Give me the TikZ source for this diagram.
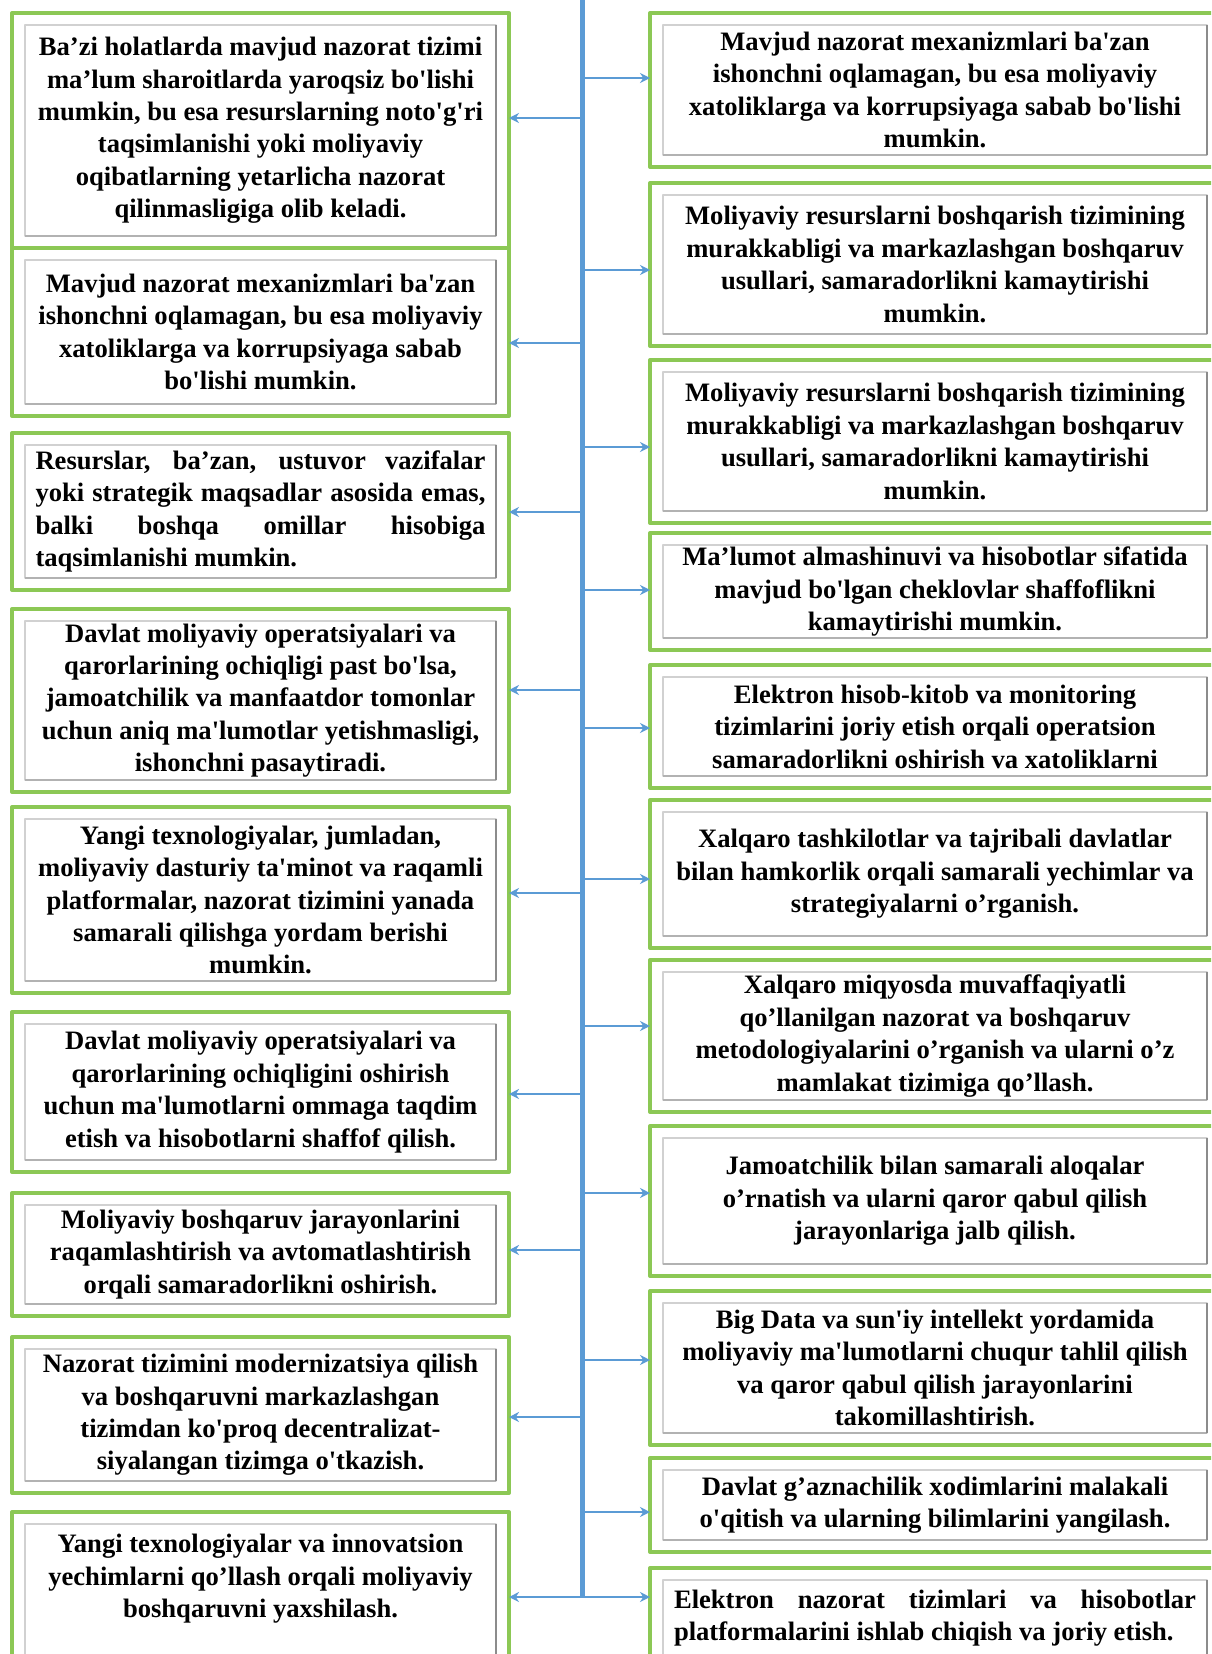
\documentclass[tikz,border=0pt]{standalone}
\usepackage{fontspec}
\usepackage{xcolor}
\usepackage{tikz}
\usetikzlibrary{arrows.meta,calc}

\newfontfamily\boxfam{Liberation Serif}
\definecolor{frgreen}{RGB}{140,200,85}
\definecolor{spineblue}{RGB}{91,155,213}
\newcommand{\boxfont}{\boxfam\fontsize{13.3pt}{16.2pt}\selectfont\bfseries}
\newcommand{\jline}[2]{\makebox[#1][s]{#2}}

\tikzset{
  framebox/.style={draw=frgreen, line width=2pt, anchor=north west, inner sep=0pt,
                   outer sep=0pt, align=center, font=\boxfont, text=black},
  lbox/.style={framebox, minimum width=248.5pt, minimum height=#1},
  rbox/.style={framebox, minimum width=285pt, minimum height=#1},
  innerline/.style={draw=black!18, line width=1pt},
  shadeline/.style={draw=black!45, line width=1.3pt},
  spine/.style={draw=spineblue, line width=2.5pt},
  feed/.style={draw=spineblue, line width=1.3pt, -{Stealth[length=5pt,width=5pt]}}
}

\begin{document}
\begin{tikzpicture}[x=0.5pt, y=-0.5pt, line join=round]

  \useasboundingbox (0,0) rectangle (1211,1654);
  \clip (0,0) rectangle (1211,1654);

  % left column
  \node[lbox=117.5pt] (L1) at (12,13) {Ba’zi holatlarda mavjud nazorat tizimi\\ ma’lum sharoitlarda yaroqsiz bo'lishi\\ mumkin, bu esa resurslarning noto'g'ri\\ taqsimlanishi yoki moliyaviy\\ oqibatlarning yetarlicha nazorat\\ qilinmasligiga olib keladi.};
  \node[lbox=84pt] (L2) at (12,248) {Mavjud nazorat mexanizmlari ba'zan\\ ishonchni oqlamagan, bu esa moliyaviy\\ xatoliklarga va korrupsiyaga sabab\\ bo'lishi mumkin.};
  \node[lbox=78.5pt, align=left] (L3) at (12,433) {\jline{225pt}{Resurslar, ba’zan, ustuvor vazifalar}\\ \jline{225pt}{yoki strategik maqsadlar asosida emas,}\\ \jline{225pt}{balki boshqa omillar hisobiga}\\ taqsimlanishi mumkin.};
  \node[lbox=91.5pt] (L4) at (12,609) {Davlat moliyaviy operatsiyalari va\\ qarorlarining ochiqligi past bo'lsa,\\ jamoatchilik va manfaatdor tomonlar\\ uchun aniq ma'lumotlar yetishmasligi,\\ ishonchni pasaytiradi.};
  \node[lbox=93pt] (L5) at (12,807) {Yangi texnologiyalar, jumladan,\\ moliyaviy dasturiy ta'minot va raqamli\\ platformalar, nazorat tizimini yanada\\ samarali qilishga yordam berishi\\ mumkin.};
  \node[lbox=80pt] (L6) at (12,1012) {Davlat moliyaviy operatsiyalari va\\ qarorlarining ochiqligini oshirish\\ uchun ma'lumotlarni ommaga taqdim\\ etish va hisobotlarni shaffof qilish.};
  \node[lbox=61.5pt] (L7) at (12,1193) {Moliyaviy boshqaruv jarayonlarini\\ raqamlashtirish va avtomatlashtirish\\ orqali samaradorlikni oshirish.};
  \node[lbox=78pt] (L8) at (12,1337) {Nazorat tizimini modernizatsiya qilish\\ va boshqaruvni markazlashgan\\ tizimdan ko'proq decentralizat-\\ siyalangan tizimga o'tkazish.};
  \node[lbox=80pt] (L9) at (12,1512) {Yangi texnologiyalar va innovatsion\\ yechimlarni qo’llash orqali moliyaviy\\ boshqaruvni yaxshilash.\\ ~};

  % right column
  \node[rbox=77pt] (R1) at (650,13) {Mavjud nazorat mexanizmlari ba'zan\\ ishonchni oqlamagan, bu esa moliyaviy\\ xatoliklarga va korrupsiyaga sabab bo'lishi\\ mumkin.};
  \node[rbox=81.5pt] (R2) at (650,183) {Moliyaviy resurslarni boshqarish tizimining\\ murakkabligi va markazlashgan boshqaruv\\ usullari, samaradorlikni kamaytirishi\\ mumkin.};
  \node[rbox=81.5pt] (R3) at (650,360) {Moliyaviy resurslarni boshqarish tizimining\\ murakkabligi va markazlashgan boshqaruv\\ usullari, samaradorlikni kamaytirishi\\ mumkin.};
  \node[rbox=58.5pt] (R4) at (650,533) {Ma’lumot almashinuvi va hisobotlar sifatida\\ mavjud bo'lgan cheklovlar shaffoflikni\\ kamaytirishi mumkin.};
  \node[rbox=61.5pt] (R5) at (650,665) {Elektron hisob-kitob va monitoring\\ tizimlarini joriy etish orqali operatsion\\ samaradorlikni oshirish va xatoliklarni};
  \node[rbox=74pt] (R6) at (650,800) {Xalqaro tashkilotlar va tajribali davlatlar\\ bilan hamkorlik orqali samarali yechimlar va\\ strategiyalarni o’rganish.};
  \node[rbox=76pt] (R7) at (650,960) {Xalqaro miqyosda muvaffaqiyatli\\ qo’llanilgan nazorat va boshqaruv\\ metodologiyalarini o’rganish va ularni o’z\\ mamlakat tizimiga qo’llash.};
  \node[rbox=75pt] (R8) at (650,1126) {Jamoatchilik bilan samarali aloqalar\\ o’rnatish va ularni qaror qabul qilish\\ jarayonlariga jalb qilish.};
  \node[rbox=77pt] (R9) at (650,1291) {Big Data va sun'iy intellekt yordamida\\ moliyaviy ma'lumotlarni chuqur tahlil qilish\\ va qaror qabul qilish jarayonlarini\\ takomillashtirish.};
  \node[rbox=47pt] (R10) at (650,1458) {Davlat g’aznachilik xodimlarini malakali\\ o'qitish va ularning bilimlarini yangilash.};
  \node[rbox=50pt, align=left] (R11) at (650,1568) {\jline{261pt}{Elektron nazorat tizimlari va hisobotlar}\\ platformalarini ishlab chiqish va joriy etish.};

  % inner frames, darker on the right and bottom
  \foreach \n in {L1,L2,L3,L4,L5,L6,L7,L8,L9,R1,R2,R3,R4,R5,R6,R7,R8,R9,R10,R11} {
    \draw[innerline] ([shift={(6.5pt,-6pt)}]\n.north west) rectangle ([shift={(-6.5pt,6pt)}]\n.south east);
    \draw[shadeline, draw=black!30] ([shift={(6.5pt,6pt)}]\n.south west) -- ([shift={(-6.5pt,6pt)}]\n.south east);
    \draw[shadeline] ([shift={(-6.5pt,-6pt)}]\n.north east) -- ([shift={(-6.5pt,6pt)}]\n.south east);
  }

  % feeds from the spine
  \foreach \n/\y in {L1/118,L2/343,L3/512,L4/690,L5/893,L6/1094,L7/1250,L8/1417,L9/1597} {
    \coordinate (s\n) at (582,\y);
    \draw[feed] (s\n) -- (s\n -| \n.east);
  }
  \foreach \n/\y in {R1/78,R2/270,R3/447,R4/590,R5/728,R6/879,R7/1026,R8/1193,R9/1360,R10/1512,R11/1597} {
    \coordinate (s\n) at (582,\y);
    \draw[feed] (s\n) -- (s\n -| \n.west);
  }

  \coordinate (spTop) at (582,-5);
  \coordinate (spBot) at (582,1598);
  \draw[spine] (spTop) -- (spBot);

\end{tikzpicture}
\end{document}
